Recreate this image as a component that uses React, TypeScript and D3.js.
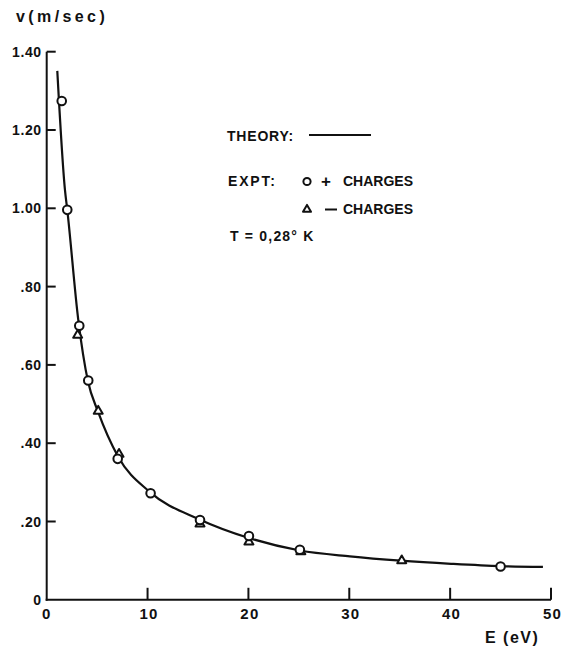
import React, { FC, useMemo } from "react";
import { scaleLinear, line, curveMonotoneX } from "d3";

// theory curve (E in eV, v in m/sec)
const theoryE = [1.05, 1.81, 2.04, 3.13, 4.09, 5.08, 7.07, 10.24, 15.1, 20.05, 25.1, 30.06, 35.1, 40.1, 45.0, 49.2];
const theoryV = [1.351, 1.047, 0.996, 0.715, 0.558, 0.481, 0.366, 0.275, 0.206, 0.158, 0.126, 0.111, 0.1, 0.092, 0.086, 0.084];

// experiment, + charges (circles)
const plusE = [1.49, 2.04, 3.23, 4.12, 7.04, 10.3, 15.2, 20.05, 25.1, 45.0];
const plusV = [1.274, 0.996, 0.7, 0.56, 0.36, 0.272, 0.204, 0.163, 0.128, 0.085];

// experiment, - charges (triangles)
const minusE = [3.07, 5.11, 7.17, 15.2, 20.05, 25.2, 35.2];
const minusV = [0.676, 0.482, 0.372, 0.194, 0.148, 0.123, 0.1];

const xTicks = [0, 10, 20, 30, 40, 50];
const xTickLabels = ["0", "10", "20", "30", "40", "50"];
const yTicks = [0, 0.2, 0.4, 0.6, 0.8, 1.0, 1.2, 1.4];
const yTickLabels = ["0", ".20", ".40", ".60", ".80", "1.00", "1.20", "1.40"];

const W = 565;
const H = 647;
const font = "'Liberation Sans', Arial, sans-serif";
const ink = "#111";

const Triangle: FC<{ cx: number; cy: number; s?: number }> = ({ cx, cy, s = 9 }) => {
  const h = (s * Math.sqrt(3)) / 2;
  const d = `M${cx},${cy - (h * 2) / 3} L${cx + s / 2},${cy + h / 3} L${cx - s / 2},${cy + h / 3} Z`;
  return <path d={d} fill="white" stroke={ink} strokeWidth={2} strokeLinejoin="round" />;
};

const App: FC = () => {
  const x = useMemo(() => scaleLinear().domain([0, 50]).range([46.7, 551]), []);
  const y = useMemo(() => scaleLinear().domain([0, 1.4]).range([599.8, 51.7]), []);

  const theoryPath = useMemo(() => {
    const pts = theoryE.map((e, i) => [e, theoryV[i]] as [number, number]);
    return (
      line<[number, number]>()
        .x((d) => x(d[0]))
        .y((d) => y(d[1]))
        .curve(curveMonotoneX)(pts) ?? ""
    );
  }, [x, y]);

  const x0 = x(0);
  const y0 = y(0);

  return (
    <svg
      width={W}
      height={H}
      style={{ position: "absolute", left: 0, top: 0, background: "white" }}
      fontFamily={font}
      fontWeight="bold"
    >
      <rect width={W} height={H} fill="white" />

      {/* axes */}
      <line x1={x0} y1={y(1.4)} x2={x0} y2={y0 + 1} stroke={ink} strokeWidth={2} />
      <line x1={x0 - 1} y1={y0} x2={x(50)} y2={y0} stroke={ink} strokeWidth={2} />

      {yTicks.map((t, i) => (
        <g key={"y" + t}>
          {t > 0 && <line x1={x0} x2={x0 + 9} y1={y(t)} y2={y(t)} stroke={ink} strokeWidth={2} />}
          <text
            x={x0 - 5}
            y={y(t)}
            dy="0.36em"
            textAnchor="end"
            fontSize={14}
            letterSpacing={0.6}
            fill={ink}
          >
            {yTickLabels[i]}
          </text>
        </g>
      ))}

      {xTicks.map((t, i) => (
        <g key={"x" + t}>
          {t > 0 && <line x1={x(t)} x2={x(t)} y1={y0} y2={y0 - 12} stroke={ink} strokeWidth={2} />}
          <text
            x={x(t) + (t > 0 ? 1.5 : 0)}
            y={619}
            textAnchor="middle"
            fontSize={15}
            letterSpacing={1.2}
            fill={ink}
          >
            {xTickLabels[i]}
          </text>
        </g>
      ))}

      <text x={16} y={22} fontSize={16} letterSpacing={3.4} fill={ink}>
        v(m/sec)
      </text>
      <text x={485} y={643} fontSize={16} letterSpacing={1.5} fill={ink} style={{ whiteSpace: "pre" }}>
        E (eV)
      </text>

      {/* theory curve */}
      <path d={theoryPath} fill="none" stroke={ink} strokeWidth={2.2} />

      {/* - charges */}
      {minusE.map((e, i) => (
        <Triangle key={"m" + i} cx={x(e)} cy={y(minusV[i])} />
      ))}
      {/* + charges */}
      {plusE.map((e, i) => (
        <circle key={"p" + i} cx={x(e)} cy={y(plusV[i])} r={4.3} fill="white" stroke={ink} strokeWidth={2} />
      ))}

      {/* legend */}
      <g fill={ink} fontSize={14}>
        <text x={227} y={141} letterSpacing={0.8}>THEORY:</text>
        <line x1={309} x2={371} y1={135} y2={135} stroke={ink} strokeWidth={2} />
        <text x={228} y={186} letterSpacing={1.8}>EXPT:</text>
        <circle cx={307} cy={181.5} r={3.6} fill="white" stroke={ink} strokeWidth={2} />
        <text x={321} y={187} fontSize={17}>+</text>
        <text x={343} y={186}>CHARGES</text>
        <Triangle cx={307} cy={209.5} s={8} />
        <line x1={325} x2={337} y1={209.5} y2={209.5} stroke={ink} strokeWidth={2} />
        <text x={343} y={214}>CHARGES</text>
        <text x={230} y={241} letterSpacing={1.2}>T = 0,28° K</text>
      </g>
    </svg>
  );
};

export default App;
